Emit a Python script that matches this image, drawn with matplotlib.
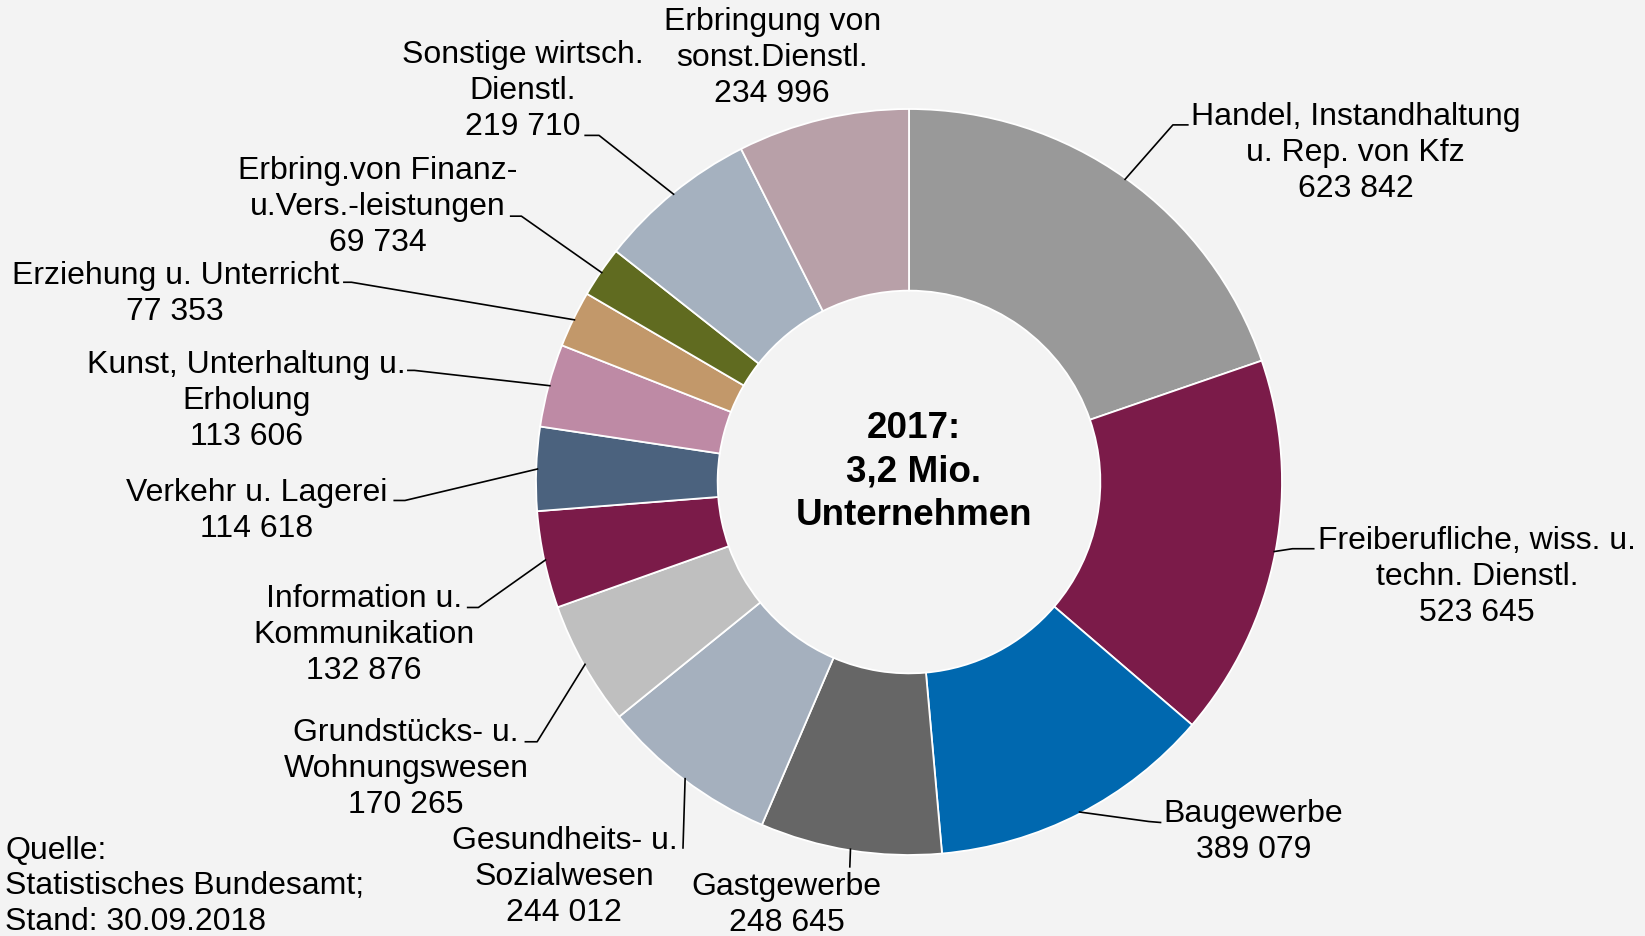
import numpy as np
import matplotlib
matplotlib.use("Agg")
import matplotlib.pyplot as plt

plt.rcParams['font.family'] = ['Liberation Sans', 'DejaVu Sans']

# ---- data ----
categories = [
    "Handel, Instandhaltung\nu. Rep. von Kfz",
    "Freiberufliche, wiss. u.\ntechn. Dienstl.",
    "Baugewerbe",
    "Gastgewerbe",
    "Gesundheits- u.\nSozialwesen",
    "Grundstücks- u.\nWohnungswesen",
    "Information u.\nKommunikation",
    "Verkehr u. Lagerei",
    "Kunst, Unterhaltung u.\nErholung",
    "Erziehung u. Unterricht",
    "Erbring.von Finanz-\nu.Vers.-leistungen",
    "Sonstige wirtsch.\nDienstl.",
    "Erbringung von\nsonst.Dienstl.",
]
values = [623842, 523645, 389079, 248645, 244012, 170265, 132876,
          114618, 113606, 77353, 69734, 219710, 234996]
value_labels = ["623 842", "523 645", "389 079", "248 645", "244 012", "170 265",
                "132 876", "114 618", "113 606", "77 353", "69 734", "219 710", "234 996"]
colors = ["#999999", "#7B1B49", "#0068AF", "#666666", "#A5B0BE", "#BFBFBF",
          "#7B1B49", "#4B627E", "#BE8AA5", "#C2986A", "#606B20", "#A5B1BF", "#B8A0A8"]
center_text = "2017:\n3,2 Mio.\nUnternehmen"
source_text = "Quelle:\nStatistisches Bundesamt;\nStand: 30.09.2018"

# ---- layout (pixel coordinates, measured on a 1568-wide copy) ----
W, H = 1645, 937
S = W / 1568.0
def P(x, y):
    return (x * S, H - y * S)

CX, CY = 909, H - 483
R = 373
# text centers, elbow, tail (None = no leader)
label_pos = [
    ((1292, 146), (1118, 120), (1133, 120)),
    ((1408, 550), (1232, 524), (1253, 524)),
    ((1195, 793), (1095, 784), (1107, 785)),
    ((750, 863), (810, 828), (810, 828)),
    ((538, 836), (651, 810), (651, 810)),
    ((387, 733), (512, 708), (500, 708)),
    ((347, 605), (456, 580), (445, 580)),
    ((245, 487), (386, 478), (375, 478)),
    ((235, 382), (395, 354), (388, 354)),
    ((167, 280), (335, 270), (327, 270)),
    ((360, 197), (497, 207), (486, 207)),
    ((498, 87), (571, 130), (557, 130)),
    ((736, 55), None, None),
]

fig = plt.figure(figsize=(W / 100, H / 100), dpi=100, facecolor="#F3F3F3")
ax = fig.add_axes([0, 0, 1, 1])
ax.set_facecolor("#F3F3F3")

wedges, _ = ax.pie(values, colors=colors, startangle=90, counterclock=False,
                   radius=R, center=(CX, CY),
                   wedgeprops=dict(width=R * 0.487, edgecolor="white", linewidth=1.3))
ax.set_xlim(0, W)
ax.set_ylim(0, H)
ax.set_aspect("equal")
ax.axis("off")

for w, cat, vl, (tp, el, tl) in zip(wedges, categories, value_labels, label_pos):
    tx, ty = P(*tp)
    ax.text(tx, ty, cat + "\n" + vl, ha="center", va="center", fontsize=23,
            linespacing=1.26, color="black")
    if el is not None:
        th = np.deg2rad((w.theta1 + w.theta2) / 2)
        sx, sy = CX + (R - 2) * np.cos(th), CY + (R - 2) * np.sin(th)
        ex, ey = P(*el)
        lx, ly = P(*tl)
        ax.plot([sx, ex, lx], [sy, ey, ly], color="black", lw=1.2,
                solid_capstyle="butt")

cx, cy = P(871, 450)
ax.text(cx, cy, center_text, ha="center", va="center", fontsize=26.5,
        fontweight="bold", linespacing=1.30)

sx, sy = P(5, 845)
ax.text(sx, sy, source_text, ha="left", va="center", fontsize=23, linespacing=1.26)

fig.savefig("out.png", dpi=100, facecolor=fig.get_facecolor())
